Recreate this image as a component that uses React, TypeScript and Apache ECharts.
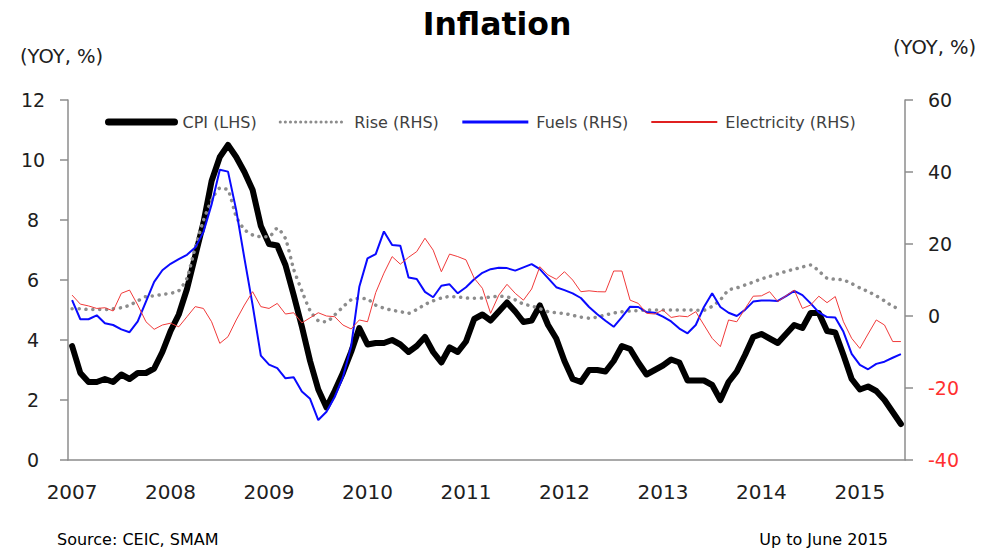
import React, { useEffect, useRef } from "react";
import * as echarts from "echarts";

const years = ["2007", "2008", "2009", "2010", "2011", "2012", "2013", "2014", "2015"];
const monthCount = 102; // Jan 2007 .. Jun 2015
const categories: string[] = [];
for (let i = 0; i < monthCount; i++) categories.push(i % 12 === 0 ? years[i / 12] : "");

const cpi = [
  3.8, 2.9, 2.6, 2.6, 2.7, 2.6, 2.85, 2.7, 2.9, 2.9, 3.05, 3.6,
  4.3, 4.85, 5.7, 6.8, 7.9, 9.3, 10.1, 10.5, 10.1, 9.6, 9.0, 7.8,
  7.2, 7.15, 6.5, 5.5, 4.45, 3.3, 2.35, 1.75, 2.3, 2.9, 3.6, 4.4,
  3.85, 3.9, 3.9, 4.0, 3.85, 3.6, 3.8, 4.1, 3.6, 3.25, 3.75, 3.6,
  3.95, 4.7, 4.85, 4.65, 4.95, 5.25, 4.95, 4.6, 4.65, 5.15, 4.5, 4.05,
  3.3, 2.7, 2.6, 3.0, 3.0, 2.95, 3.3, 3.8, 3.7, 3.25, 2.85, 3.0,
  3.15, 3.35, 3.25, 2.65, 2.65, 2.65, 2.5, 2.0, 2.6, 2.95, 3.5, 4.1,
  4.2, 4.05, 3.9, 4.2, 4.5, 4.4, 4.9, 4.9, 4.3, 4.25, 3.5, 2.7,
  2.35, 2.45, 2.3, 2.0, 1.6, 1.2,
];

const rise = [
  2.0, 2.0, 1.8, 1.8, 1.8, 2.0, 2.3, 3.0, 4.2, 5.4, 5.6, 6.0,
  6.3, 7.0, 10.5, 19, 26.5, 32.2, 35.5, 35, 27.6, 24, 22.5, 22,
  22, 24.4, 21.5, 13, 7, 1.5, -1.3, -1.6, 0.3, 2.5, 4.5, 4.9,
  4.7, 3.0, 2.2, 1.6, 1.2, 0.75, 1.8, 3.2, 4.2, 5.0, 5.4, 5.3,
  5.0, 4.9, 5.0, 5.3, 5.5, 5.3, 4.5, 3.3, 2.8, 2.0, 1.2, 0.9,
  0.7, 0.2, -0.3, -0.6, -0.3, 0.3, 0.8, 1.2, 1.4, 1.5, 1.7, 1.7,
  1.7, 1.7, 1.7, 1.7, 1.6, 1.6, 2.7, 4.5, 7.2, 7.8, 8.6, 9.4,
  10.3, 11.0, 11.7, 12.4, 13.0, 13.6, 14.2, 12.5, 10.5, 10.2, 10.0, 9.0,
  7.8, 6.8, 5.6, 4.2, 2.7, 1.8,
];

const fuels = [
  4.4, -0.9, -0.9, 0.2, -2.0, -2.5, -3.7, -4.5, -1.5, 4.0, 9.5, 12.7,
  14.5, 15.8, 17, 19, 23.3, 31, 40.6, 40.1, 29.4, 16, 3, -11,
  -13.5, -14.5, -17.3, -17, -21, -23, -28.9, -26.6, -22.5, -17, -8.5, 8.1,
  16, 17.2, 23.5, 19.7, 19.5, 10.7, 10.3, 6.7, 5.2, 8.4, 8.8, 6.3,
  8.0, 10.2, 12.0, 13.0, 13.4, 13.3, 12.6, 13.5, 14.4, 13.0, 10.5, 8.0,
  7.2, 6.3, 5.0, 2.5, 0.5, -1.3, -3.0, -0.3, 2.6, 2.5, 1.1, 0.9,
  -0.2, -1.5, -3.5, -4.8, -2.5, 2.5, 6.3, 2.5, 0.9, 0, 1.7, 4.0,
  4.3, 4.3, 4.2, 5.5, 7.0, 5.8, 3.5, 1.0, -0.3, -0.4, -4.4, -10.5,
  -13.6, -14.8, -13.3, -12.7, -11.6, -10.6,
];

const electricity = [
  5.8, 3.3, 2.8, 2.1, 2.3, 1.4, 6.3, 7.2, 3.05, -1.6, -3.7, -2.5,
  -2.0, -3.0, -0.2, 2.6, 2.1, -1.6, -7.6, -5.75, -1.1, 3.05, 6.75, 2.6,
  2.1, 3.5, 0.55, 0.9, -1.9, -0.5, 0.9, 0, -0.2, -2.5, -3.6, -1.1,
  -1.6, 6.5, 11.9, 16.5, 14.4, 16.3, 17.9, 21.6, 18.3, 12.3, 17.2, 16.5,
  15.6, 10.5, 7.7, 0.75, 5.8, 8.8, 6.3, 4.4, 7.5, 13.7, 11.4, 10.2,
  12.3, 10.0, 6.75, 7.0, 6.75, 6.7, 12.5, 12.5, 4.4, 3.5, 0.75, 0.55,
  1.67, -0.4, 0, -0.2, 1.2, -2.5, -6.2, -8.5, -1.1, -1.6, 2.0, 5.5,
  5.6, 6.75, 4.0, 5.6, 7.2, 2.1, 3.05, 5.5, 3.7, 5.4, -1.6, -6.2,
  -9.0, -5.0, -1.1, -2.5, -7.1, -7.1,
];

const FONT = "DejaVu Sans";
const AXIS_GRAY = "#8c8c8c";
const hidden = { opacity: 0 };

export default function App() {
  const ref = useRef<HTMLDivElement>(null);
  useEffect(() => {
    if (!ref.current) return;
    const chart = echarts.init(ref.current, undefined, { renderer: "svg" });
    chart.setOption({
      animation: false,
      backgroundColor: "#ffffff",
      title: {
        text: "Inflation",
        left: "center",
        top: 3,
        textStyle: { fontFamily: FONT, fontSize: 31.5, fontWeight: "bold", color: "#000" },
      },
      legend: {
        left: 100,
        top: 109,
        itemWidth: 66,
        itemHeight: 14,
        itemGap: 22,
        itemStyle: hidden,
        textStyle: { fontFamily: FONT, fontSize: 16, color: "#404040", padding: [0, 0, 0, 3] },
        data: [
          { name: "CPI (LHS)", itemStyle: hidden, lineStyle: { width: 7, color: "#000" } },
          { name: "Rise (RHS)", itemStyle: hidden, lineStyle: { width: 3, color: "#8c8c8c", type: [0.1, 5], cap: "round" } },
          { name: "Fuels (RHS)", itemStyle: hidden, lineStyle: { width: 3, color: "#0a0aff" } },
          { name: "Electricity (RHS)", itemStyle: hidden, lineStyle: { width: 2, color: "#e02020" } },
        ],
      },
      grid: { left: 68, right: 89, top: 100, bottom: 88, containLabel: false },
      xAxis: {
        type: "category",
        data: categories,
        boundaryGap: true,
        axisLine: { lineStyle: { color: AXIS_GRAY, width: 1.5 } },
        axisTick: { interval: 11, length: 8, lineStyle: { color: AXIS_GRAY, width: 1.5 } },
        axisLabel: { interval: 11, margin: 22, fontFamily: FONT, fontSize: 20, color: "#202020" },
        splitLine: { show: false },
      },
      yAxis: [
        {
          type: "value",
          min: 0,
          max: 12,
          interval: 2,
          position: "left",
          axisLine: { show: true, lineStyle: { color: AXIS_GRAY, width: 1.5 } },
          axisTick: { show: true, inside: false, length: 8, lineStyle: { color: AXIS_GRAY, width: 1.5 } },
          axisLabel: { margin: 35, align: "center", fontFamily: FONT, fontSize: 19, color: "#202020" },
          splitLine: { show: false },
        },
        {
          type: "value",
          min: -40,
          max: 60,
          interval: 20,
          position: "right",
          axisLine: { show: true, lineStyle: { color: AXIS_GRAY, width: 1.5 } },
          axisTick: { show: true, inside: false, length: 8, lineStyle: { color: AXIS_GRAY, width: 1.5 } },
          axisLabel: {
            margin: 23,
            align: "left",
            fontFamily: FONT,
            fontSize: 19,
            color: (v: any) => (Number(v) < 0 ? "#ff3030" : "#202020"),
          },
          splitLine: { show: false },
        },
      ],
      series: [
        {
          name: "CPI (LHS)",
          type: "line",
          yAxisIndex: 0,
          data: cpi,
          symbol: "none",
          lineStyle: { color: "#000000", width: 6, join: "round", cap: "round" },
          itemStyle: { color: "#000000" },
        },
        {
          name: "Rise (RHS)",
          type: "line",
          yAxisIndex: 1,
          data: rise,
          symbol: "none",
          smooth: 0.2,
          lineStyle: { color: "#8c8c8c", width: 3.5, type: [0.1, 6.8], cap: "round" },
          itemStyle: { color: "#8c8c8c" },
        },
        {
          name: "Fuels (RHS)",
          type: "line",
          yAxisIndex: 1,
          data: fuels,
          symbol: "none",
          lineStyle: { color: "#0a0aff", width: 2 },
          itemStyle: { color: "#0a0aff" },
        },
        {
          name: "Electricity (RHS)",
          type: "line",
          yAxisIndex: 1,
          data: electricity,
          symbol: "none",
          lineStyle: { color: "#f03a3a", width: 1 },
          itemStyle: { color: "#f03a3a" },
        },
      ],
      graphic: [
        {
          type: "text",
          left: 20,
          top: 46,
          style: { text: "(YOY, %)", fontFamily: FONT, fontSize: 19.5, fill: "#202020" },
        },
        {
          type: "text",
          left: 893,
          top: 37,
          style: { text: "(YOY, %)", fontFamily: FONT, fontSize: 19.5, fill: "#202020" },
        },
        {
          type: "text",
          left: 57,
          top: 531,
          style: { text: "Source: CEIC, SMAM", fontFamily: FONT, fontSize: 16, fill: "#000" },
        },
        {
          type: "text",
          right: 106,
          top: 531,
          style: { text: "Up to June 2015", fontFamily: FONT, fontSize: 16, fill: "#000" },
        },
      ],
    });
    return () => chart.dispose();
  }, []);
  return (
    <div
      ref={ref}
      style={{ position: "fixed", left: 0, top: 0, width: 994, height: 548 }}
    />
  );
}
